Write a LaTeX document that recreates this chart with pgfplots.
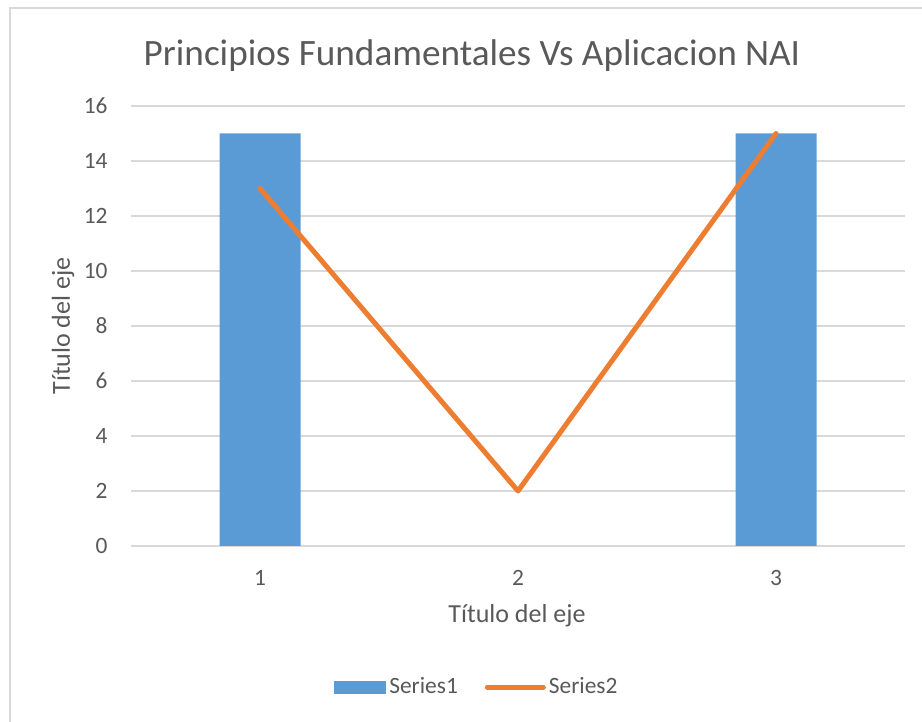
\documentclass[border=0pt]{standalone}
\usepackage{fontspec}
\setmainfont{Carlito}
\usepackage{pgfplots}
\pgfplotsset{compat=1.18}
\definecolor{barblue}{HTML}{5B9BD5}
\definecolor{lineorange}{HTML}{ED7D31}
\definecolor{gridgray}{HTML}{D9D9D9}
\definecolor{txtgray}{HTML}{595959}
\begin{document}
\begin{tikzpicture}
\useasboundingbox (0,0) rectangle (461pt,361pt);
\draw[color=gridgray, line width=0.8pt] (5pt,-2pt) |- (463pt,357pt);
\begin{axis}[
  at={(65.5pt,88pt)}, anchor=south west,
  scale only axis, width=387pt, height=220pt,
  xmin=0.5, xmax=3.5, ymin=0, ymax=16,
  xtick={1,2,3}, ytick={0,2,...,16},
  major tick length=0pt,
  axis line style={draw=none},
  ymajorgrids, grid style={color=gridgray, line width=0.8pt},
  /pgf/number format/assume math mode=true,
  tick label style={font=\fontsize{11.7}{13}\selectfont, color=txtgray},
  yticklabel style={anchor=east, inner sep=0pt, xshift=-11.5pt},
  xticklabel style={anchor=center, inner sep=0pt, yshift=-16pt},
  title={Principios Fundamentales Vs Aplicacion NAI},
  title style={at={(rel axis cs:0.4406,1.0865)}, anchor=center, font=\fontsize{18.6}{20}\selectfont, color=txtgray},
  xlabel={Título del eje},
  ylabel={Título del eje},
  label style={font=\fontsize{13}{15}\selectfont, color=txtgray},
  xlabel style={at={(rel axis cs:0.4987,-0.159)}, anchor=center},
  ylabel style={at={(rel axis cs:-0.0879,0.5)}, anchor=center},
  legend columns=2,
  legend style={at={(rel axis cs:0.4475,-0.3205)}, anchor=center, draw=none,
    font=\fontsize{11.7}{13}\selectfont, text=txtgray,
    /tikz/every even column/.append style={column sep=12pt},
    nodes={inner sep=1.5pt}},
]
\addplot[ybar, bar width=40.5pt, fill=barblue, draw=none,
  legend image code/.code={\fill[barblue] (0pt,-3.25pt) rectangle (26pt,3.25pt);}]
  coordinates {(1,15) (3,15)};
\addlegendentry{Series1}
\addplot[sharp plot, color=lineorange, line width=2.5pt, line cap=round, line join=round, mark=none,
  legend image code/.code={\draw[lineorange, line width=2.5pt, line cap=round] (0pt,0pt) -- (28pt,0pt);}]
  coordinates {(1,13) (2,2) (3,15)};
\addlegendentry{Series2}
\end{axis}
\end{tikzpicture}
\end{document}
